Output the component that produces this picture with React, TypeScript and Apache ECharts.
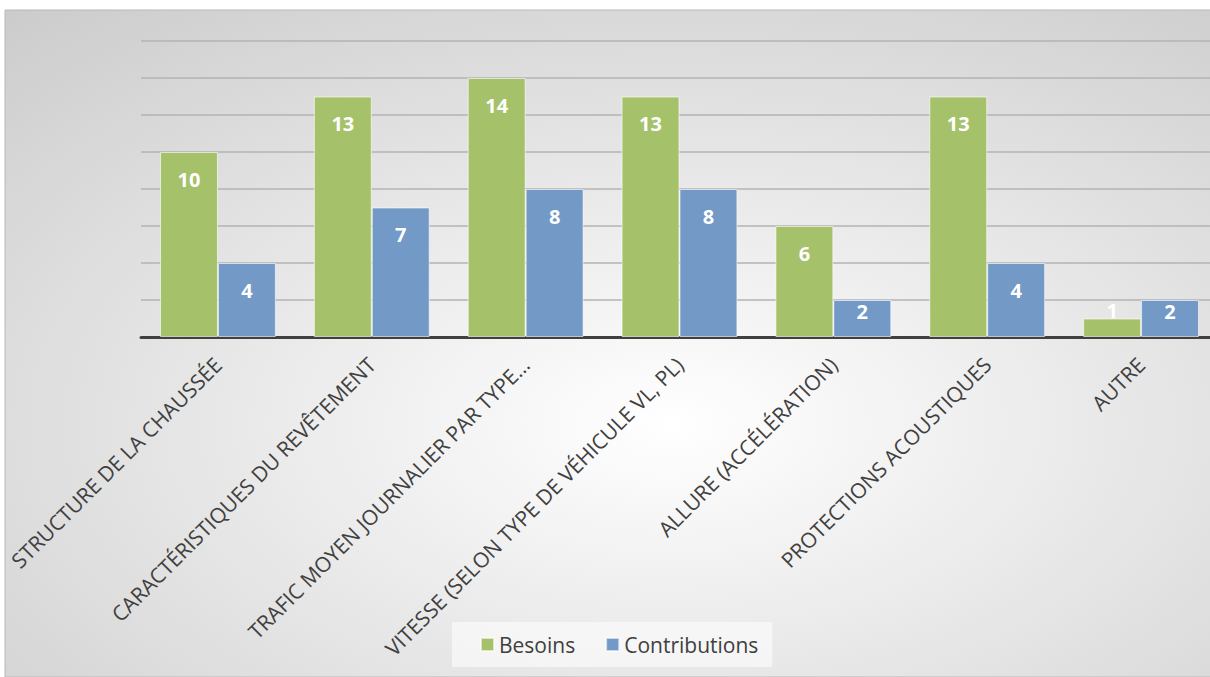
import React, { useEffect, useRef } from "react";
import * as echarts from "echarts";

const categories = [
  "STRUCTURE DE LA CHAUSSÉE",
  "CARACTÉRISTIQUES DU REVÊTEMENT",
  "TRAFIC MOYEN JOURNALIER PAR TYPE…",
  "VITESSE (SELON TYPE DE VÉHICULE VL, PL)",
  "ALLURE (ACCÉLÉRATION)",
  "PROTECTIONS ACOUSTIQUES",
  "AUTRE",
];
const besoins = [10, 13, 14, 13, 6, 13, 1];
const contributions = [4, 7, 8, 8, 2, 4, 2];
const seriesNames = ["Besoins", "Contributions"];
const colors = ["#A5C26B", "#7399C6"];

function labelFor(v: number) {
  if (v <= 1) return { position: "top", distance: -2 };
  if (v <= 2) return { position: "insideTop", distance: 1 };
  return { position: "insideTop", distance: 17 };
}

export default function App() {
  const ref = useRef<HTMLDivElement>(null);
  useEffect(() => {
    if (!ref.current) return;
    const chart = echarts.init(ref.current, null, { renderer: "svg" });
    const mk = (arr: number[]) =>
      arr.map((v) => ({ value: v, label: labelFor(v) }));
    const baseLabel = {
      show: true,
      color: "#ffffff",
      fontSize: 20,
      fontWeight: "bold",
      fontFamily: "Open Sans",
    };
    chart.setOption({
      animation: false,
      backgroundColor: "#ffffff",
      graphic: [
        {
          type: "rect",
          z: -10,
          silent: true,
          shape: { x: 5, y: 10, width: 1210, height: 667 },
          style: {
            fill: new echarts.graphic.RadialGradient(0.55, 0.62, 0.95, [
              { offset: 0, color: "#ffffff" },
              { offset: 1, color: "#c4c4c4" },
            ]),
            stroke: "#b8b8b8",
            lineWidth: 1,
          },
        },
      ],
      grid: {
        left: 141,
        top: 41,
        width: 1077,
        height: 296,
        containLabel: false,
        outerBoundsMode: "none",
      },
      legend: {
        data: seriesNames,
        top: 622,
        left: 452,
        itemWidth: 13,
        itemHeight: 13,
        itemGap: 30,
        padding: [12, 14, 12, 28],
        backgroundColor: "rgba(255,255,255,0.55)",
        textStyle: { fontSize: 21, color: "#404040", fontFamily: "Open Sans" },
        icon: "rect",
      },
      xAxis: {
        type: "category",
        data: categories,
        axisLine: { lineStyle: { color: "#404040", width: 3 } },
        axisTick: { show: false },
        axisLabel: {
          interval: 0,
          rotate: 45,
          fontSize: 21,
          color: "#404040",
          fontFamily: "Open Sans",
          margin: 24,
        },
      },
      yAxis: {
        type: "value",
        min: 0,
        max: 16,
        interval: 2,
        axisLabel: { show: false },
        axisLine: { show: false },
        axisTick: { show: false },
        splitLine: { lineStyle: { color: "#b3b3b3", width: 1.5 } },
      },
      series: [
        {
          name: seriesNames[0],
          type: "bar",
          data: mk(besoins),
          barGap: "0%",
          barCategoryGap: "24.7%",
          itemStyle: {
            color: colors[0],
            borderColor: "rgba(255,255,255,0.6)",
            borderWidth: 1,
          },
          label: baseLabel,
        },
        {
          name: seriesNames[1],
          type: "bar",
          data: mk(contributions),
          barGap: "0%",
          barCategoryGap: "24.7%",
          itemStyle: {
            color: colors[1],
            borderColor: "rgba(255,255,255,0.6)",
            borderWidth: 1,
          },
          label: baseLabel,
        },
      ],
    });
    return () => chart.dispose();
  }, []);
  return (
    <div
      ref={ref}
      style={{ position: "fixed", left: 0, top: 0, width: 1210, height: 677 }}
    />
  );
}
